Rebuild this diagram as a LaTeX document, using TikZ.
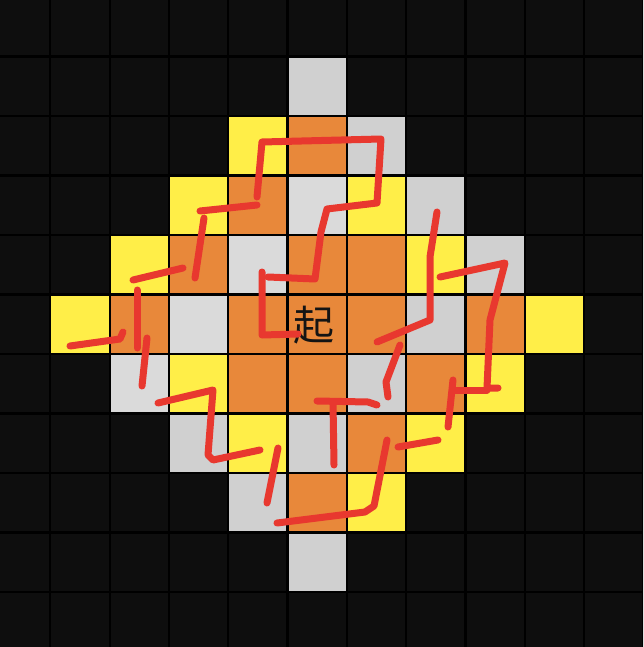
\documentclass[tikz,border=0pt]{standalone}
\usepackage{fontspec}
\newfontfamily\cjk{Noto Sans CJK SC}
\definecolor{bg}{HTML}{0E0E0E}
\definecolor{cy}{HTML}{FFEE48}
\definecolor{co}{HTML}{E8883A}
\definecolor{cg}{HTML}{D0D0D0}
\definecolor{cl}{HTML}{DADADA}
\definecolor{pen}{HTML}{E8382F}
\tikzset{
  cellY/.style={fill=cy},
  cellO/.style={fill=co},
  cellG/.style={fill=cg},
  cellL/.style={fill=cl},
  gridline/.style={draw=black,line width=2.2pt},
  stroke/.style={draw=pen,line width=7pt,line cap=round,line join=round},
}
\begin{document}
\begin{tikzpicture}[x=1pt,y=-1pt]
\useasboundingbox (0,0) rectangle (643,647);
\fill[bg] (0,0) rectangle (643,647);
\begin{scope}
\clip (0,0) rectangle (643,647);
% cells
\foreach \c/\r/\s in {
 4/2/cellY,3/3/cellY,6/3/cellY,2/4/cellY,7/4/cellY,1/5/cellY,9/5/cellY,3/6/cellY,8/6/cellY,4/7/cellY,7/7/cellY,6/8/cellY,
 5/2/cellO,4/3/cellO,3/4/cellO,5/4/cellO,6/4/cellO,2/5/cellO,4/5/cellO,5/5/cellO,6/5/cellO,8/5/cellO,4/6/cellO,5/6/cellO,7/6/cellO,6/7/cellO,5/8/cellO,
 5/1/cellG,6/2/cellG,5/3/cellL,7/3/cellG,4/4/cellL,8/4/cellG,3/5/cellL,7/5/cellG,2/6/cellL,6/6/cellG,3/7/cellG,5/7/cellG,4/8/cellG,5/9/cellG}
 {\path[\s] ({-9+59.3*\c},{-3+59.5*\r}) rectangle ({-9+59.3*(\c+1)},{-3+59.5*(\r+1)});}
% grid
\foreach \k in {0,...,11}{
  \draw[gridline] ({-9+59.3*\k},0) -- ({-9+59.3*\k},647);
  \draw[gridline] (0,{-3+59.5*\k}) -- (643,{-3+59.5*\k});
}
\end{scope}
% start label
\node[font=\cjk\fontsize{41}{41}\selectfont,text=black!92,inner sep=0pt] (start) at (314,325) {起};
% red freehand strokes
\draw[stroke] (257,197) -- (262,142) -- (381,139) -- (377,203) -- (327,209) -- (321,232) -- (315,279) -- (268,277);
\draw[stroke] (200,211) -- (257,205);
\draw[stroke] (204,218) -- (195,278);
\draw[stroke] (183,268) -- (133,280);
\draw[stroke] (137,290) -- (137,348);
\draw[stroke] (70,346) -- (120,339) -- (123,332);
\draw[stroke] (147,338) -- (142,386);
\draw[stroke] (262,272) -- (262,335) -- (298,334);
\draw[stroke] (437,212) -- (430,257) -- (430,320) -- (377,342);
\draw[stroke] (400,345) -- (386,382) -- (388,397);
\draw[stroke] (440,277) -- (505,263) -- (490,320) -- (487,388) -- (498,388);
\draw[stroke] (453,380) -- (448,427);
\draw[stroke] (453,390) -- (487,390);
\draw[stroke] (317,401) -- (368,402) -- (377,405);
\draw[stroke] (333,402) -- (334,465);
\draw[stroke] (158,403) -- (213,390) -- (208,455) -- (213,460) -- (260,450);
\draw[stroke] (278,448) -- (267,503);
\draw[stroke] (398,447) -- (438,440);
\draw[stroke] (387,440) -- (374,506) -- (365,512) -- (277,523);
\end{tikzpicture}
\end{document}
